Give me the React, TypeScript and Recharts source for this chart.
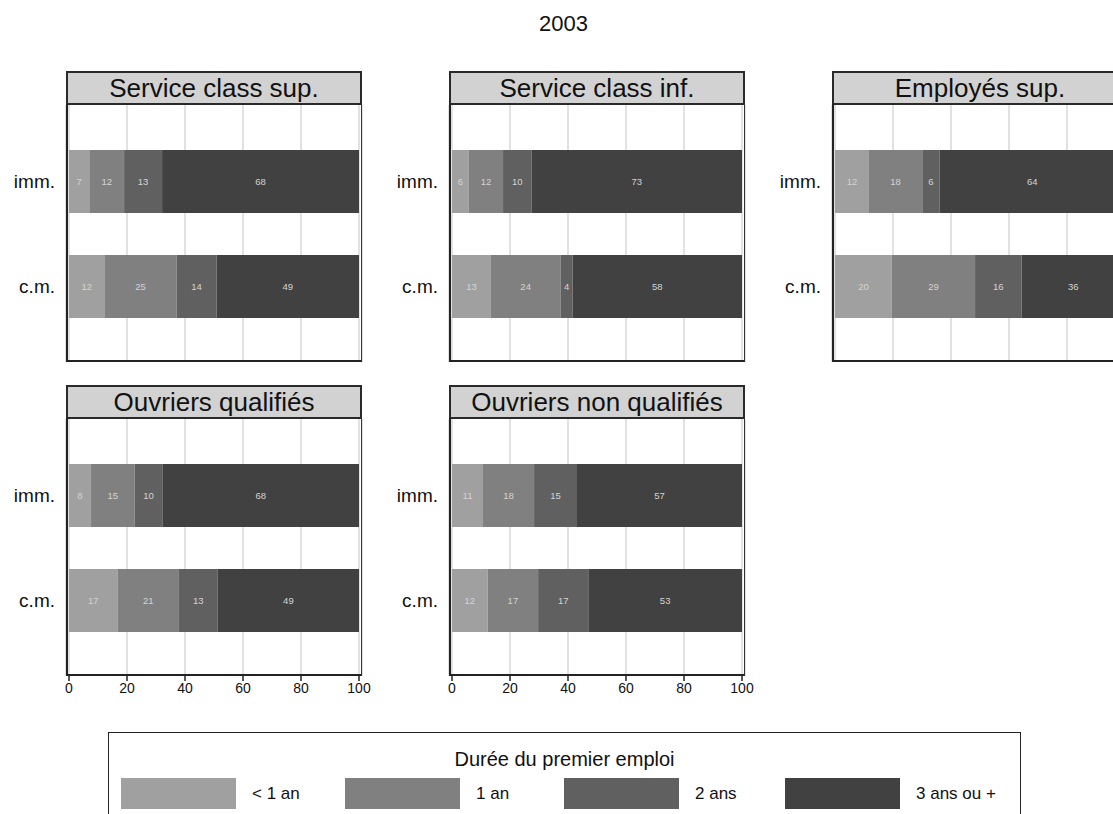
import { BarChart, Bar, XAxis, YAxis, CartesianGrid, LabelList } from "recharts";

const chartTitle = "2003";
const legendTitle = "Durée du premier emploi";
const groups = ["imm.", "c.m."];
const panelNames = [
  "Service class sup.",
  "Service class inf.",
  "Employés sup.",
  "Ouvriers qualifiés",
  "Ouvriers non qualifiés",
];
const seriesKeys = ["lt1", "y1", "y2", "y3"];
const seriesNames = ["< 1 an", "1 an", "2 ans", "3 ans ou +"];
const seriesColors = ["#a0a0a0", "#808080", "#606060", "#414141"];

// % per panel, [imm., c.m.]
const lessThanOne = [[7.0, 12.2], [5.8, 13.4], [11.7, 19.6], [7.6, 16.7], [10.7, 12.3]];
const oneYear = [[12.0, 24.9], [11.8, 24.0], [18.4, 28.7], [15.0, 21.2], [17.6, 17.4]];
const twoYears = [[13.1, 13.8], [9.8, 4.2], [6.0, 16.0], [9.6, 13.4], [14.8, 17.3]];
const threePlus = [[67.9, 49.1], [72.6, 58.4], [63.9, 35.7], [67.8, 48.7], [56.9, 53.0]];
const xTicks = [0, 20, 40, 60, 80, 100];

const FONT = '"Liberation Sans", Arial, Helvetica, sans-serif';
const colLeft = [66, 449, 832];
const rowTop = [71, 385];
const stripH = 34;
const plotW = 296;
const plotH = 257;
const yAxisW = 66;
const axisH = 30;
const rightPad = 16;

function Panel({ idx }: { idx: number }) {
  const col = idx % 3;
  const row = Math.floor(idx / 3);
  const bottomRow = row === 1;
  const left = colLeft[col];
  const top = rowTop[row];
  const data = groups.map((g, i) => ({
    group: g,
    lt1: lessThanOne[idx][i],
    y1: oneYear[idx][i],
    y2: twoYears[idx][i],
    y3: threePlus[idx][i],
  }));

  return (
    <>
      <div
        style={{
          position: "absolute",
          left,
          top,
          width: plotW,
          height: stripH,
          boxSizing: "border-box",
          background: "#d2d2d2",
          border: "2px solid #2a2a2a",
          fontSize: 26,
          lineHeight: `${stripH - 4}px`,
          textAlign: "center",
          color: "#111",
          whiteSpace: "nowrap",
        }}
      >
        {panelNames[idx]}
      </div>
      <div style={{ position: "absolute", left: left - yAxisW, top: top + stripH }}>
        <BarChart
          width={yAxisW + plotW + rightPad}
          height={plotH + (bottomRow ? axisH : 0)}
          data={data}
          layout="vertical"
          margin={{ top: 0, right: rightPad, bottom: 0, left: 0 }}
        >
          <CartesianGrid horizontal={false} stroke="#e2e2e2" strokeWidth={2} />
          <XAxis
            type="number"
            domain={[0, 100]}
            allowDataOverflow
            ticks={xTicks}
            padding={{ left: 3, right: 3 }}
            hide={!bottomRow}
            height={axisH}
            tick={{ fill: "#111", fontSize: 14 }}
            tickSize={5}
            tickMargin={2}
            axisLine={false}
            tickLine={{ stroke: "#222", strokeWidth: 1.5 }}
          />
          <YAxis
            type="category"
            dataKey="group"
            width={yAxisW}
            padding={{ top: 24, bottom: 23 }}
            tick={{ fill: "#111", fontSize: 19 }}
            tickLine={false}
            axisLine={false}
            tickMargin={5}
          />
          {seriesKeys.map((k, s) => (
            <Bar
              key={k}
              dataKey={k}
              stackId="a"
              fill={seriesColors[s]}
              barSize={63}
              isAnimationActive={false}
            >
              <LabelList
                dataKey={k}
                position="center"
                fill="#d4d4d4"
                fontSize={9.5}
                formatter={(v: any) => Math.round(Number(v))}
              />
            </Bar>
          ))}
        </BarChart>
      </div>
      <div
        style={{
          position: "absolute",
          left,
          top: top + stripH - 1,
          width: plotW,
          height: plotH + 1,
          boxSizing: "border-box",
          borderLeft: "2px solid #222",
          borderRight: "1.5px solid #333",
          borderBottom: "2px solid #222",
          pointerEvents: "none",
        }}
      />
    </>
  );
}

const legendLeft = 108;
const legendTop = 732;
const legendItemX = [120, 344, 563, 784];

export default function App() {
  return (
    <div
      style={{
        position: "absolute",
        left: 0,
        top: 0,
        width: 1113,
        height: 814,
        overflow: "hidden",
        background: "#fff",
        fontFamily: FONT,
      }}
    >
      <div
        style={{
          position: "absolute",
          left: 0,
          width: 1127,
          top: 11,
          textAlign: "center",
          fontSize: 22,
          color: "#111",
        }}
      >
        {chartTitle}
      </div>
      {panelNames.map((_, i) => (
        <Panel key={i} idx={i} />
      ))}
      <div
        style={{
          position: "absolute",
          left: legendLeft,
          top: legendTop,
          width: 1021 - legendLeft,
          height: 120,
          boxSizing: "border-box",
          border: "1.5px solid #222",
        }}
      >
        <div
          style={{
            position: "absolute",
            left: 0,
            right: 0,
            top: 15,
            textAlign: "center",
            fontSize: 20,
            color: "#111",
          }}
        >
          {legendTitle}
        </div>
        {seriesNames.map((name, s) => (
          <div
            key={name}
            style={{
              position: "absolute",
              left: legendItemX[s] - legendLeft,
              top: 45,
              display: "flex",
              alignItems: "center",
            }}
          >
            <div style={{ width: 115, height: 31, background: seriesColors[s] }} />
            <span style={{ marginLeft: 16, fontSize: 17, color: "#111" }}>{name}</span>
          </div>
        ))}
      </div>
    </div>
  );
}
